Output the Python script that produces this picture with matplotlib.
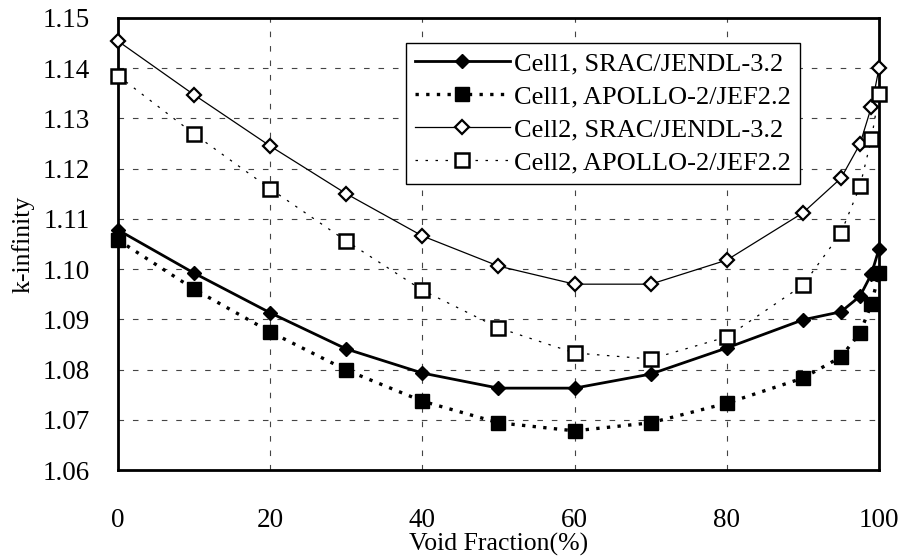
import matplotlib.pyplot as plt

plt.rcParams['font.family'] = ['Liberation Serif', 'DejaVu Serif']

# ---- data ----
void_frac = [0, 10, 20, 30, 40, 50, 60, 70, 80, 90, 95, 97.5, 99, 100]

cell1_srac = [1.1078, 1.0992, 1.0913, 1.0841, 1.0793, 1.0763, 1.0763,
              1.0791, 1.0843, 1.0899, 1.0915, 1.0946, 1.0990, 1.1040]
cell1_apollo = [1.1058, 1.0960, 1.0875, 1.0799, 1.0737, 1.0694, 1.0678,
                1.0694, 1.0733, 1.0783, 1.0825, 1.0873, 1.0930, 1.0992]
cell2_srac = [1.1454, 1.1347, 1.1245, 1.1150, 1.1066, 1.1006, 1.0970,
              1.0970, 1.1018, 1.1112, 1.1181, 1.1249, 1.1323, 1.1400]
cell2_apollo = [1.1385, 1.1269, 1.1160, 1.1056, 1.0958, 1.0883, 1.0833,
                1.0821, 1.0865, 1.0968, 1.1072, 1.1165, 1.1259, 1.1349]

labels = ['Cell1, SRAC/JENDL-3.2', 'Cell1, APOLLO-2/JEF2.2',
          'Cell2, SRAC/JENDL-3.2', 'Cell2, APOLLO-2/JEF2.2']
x_ticks = [0, 20, 40, 60, 80, 100]
y_ticks = [1.06, 1.07, 1.08, 1.09, 1.10, 1.11, 1.12, 1.13, 1.14, 1.15]

fig = plt.figure(figsize=(9.02, 5.6), dpi=100)
ax = fig.add_axes([0.1308, 0.1607, 0.8437, 0.8072])

# markers sit on the frame at 0% and 100%, so don't clip them
ax.plot(void_frac, cell1_srac, color='black', lw=2.0, marker='D', ms=7,
        mfc='black', mec='black', label=labels[0], zorder=4, clip_on=False)
ax.plot(void_frac, cell1_apollo, color='black', lw=2.4, ls=(0, (1, 2.2)),
        marker='s', ms=10, mfc='black', mec='black', label=labels[1], zorder=4,
        clip_on=False)
ax.plot(void_frac, cell2_srac, color='black', lw=0.9, marker='D', ms=7,
        mfc='white', mec='black', mew=1.6, label=labels[2], zorder=4, clip_on=False)
ax.plot(void_frac, cell2_apollo, color='black', lw=0.9, ls=(0, (2, 6)),
        marker='s', ms=10.5, mfc='white', mec='black', mew=1.8, label=labels[3],
        zorder=4, clip_on=False)

ax.set_xlim(0, 100)
ax.set_ylim(1.06, 1.15)
ax.set_xticks(x_ticks)
ax.set_yticks(y_ticks)
ax.set_yticklabels([f'{v:.2f}' for v in y_ticks])
ax.tick_params(axis='both', length=0, labelsize=19.5)
ax.tick_params(axis='x', pad=27)
ax.tick_params(axis='y', pad=20)

ax.grid(True, color='#444444', lw=0.8, ls=(0, (5, 8)))
for sp in ax.spines.values():
    sp.set_linewidth(2.0)

ax.set_xlabel('Void Fraction(%)', fontsize=18.5, labelpad=0)
ax.set_ylabel('k-infinity', fontsize=18.5, labelpad=6)

leg = ax.legend(loc='upper right', bbox_to_anchor=(0.896, 0.945), fontsize=19,
                frameon=True, fancybox=False, edgecolor='black', framealpha=1,
                handlelength=3.6, borderpad=0.35, labelspacing=0.36,
                handletextpad=0.15, borderaxespad=0)
leg.get_frame().set_linewidth(1.0)
leg.set_zorder(5)

fig.savefig('out.png', dpi=100)
